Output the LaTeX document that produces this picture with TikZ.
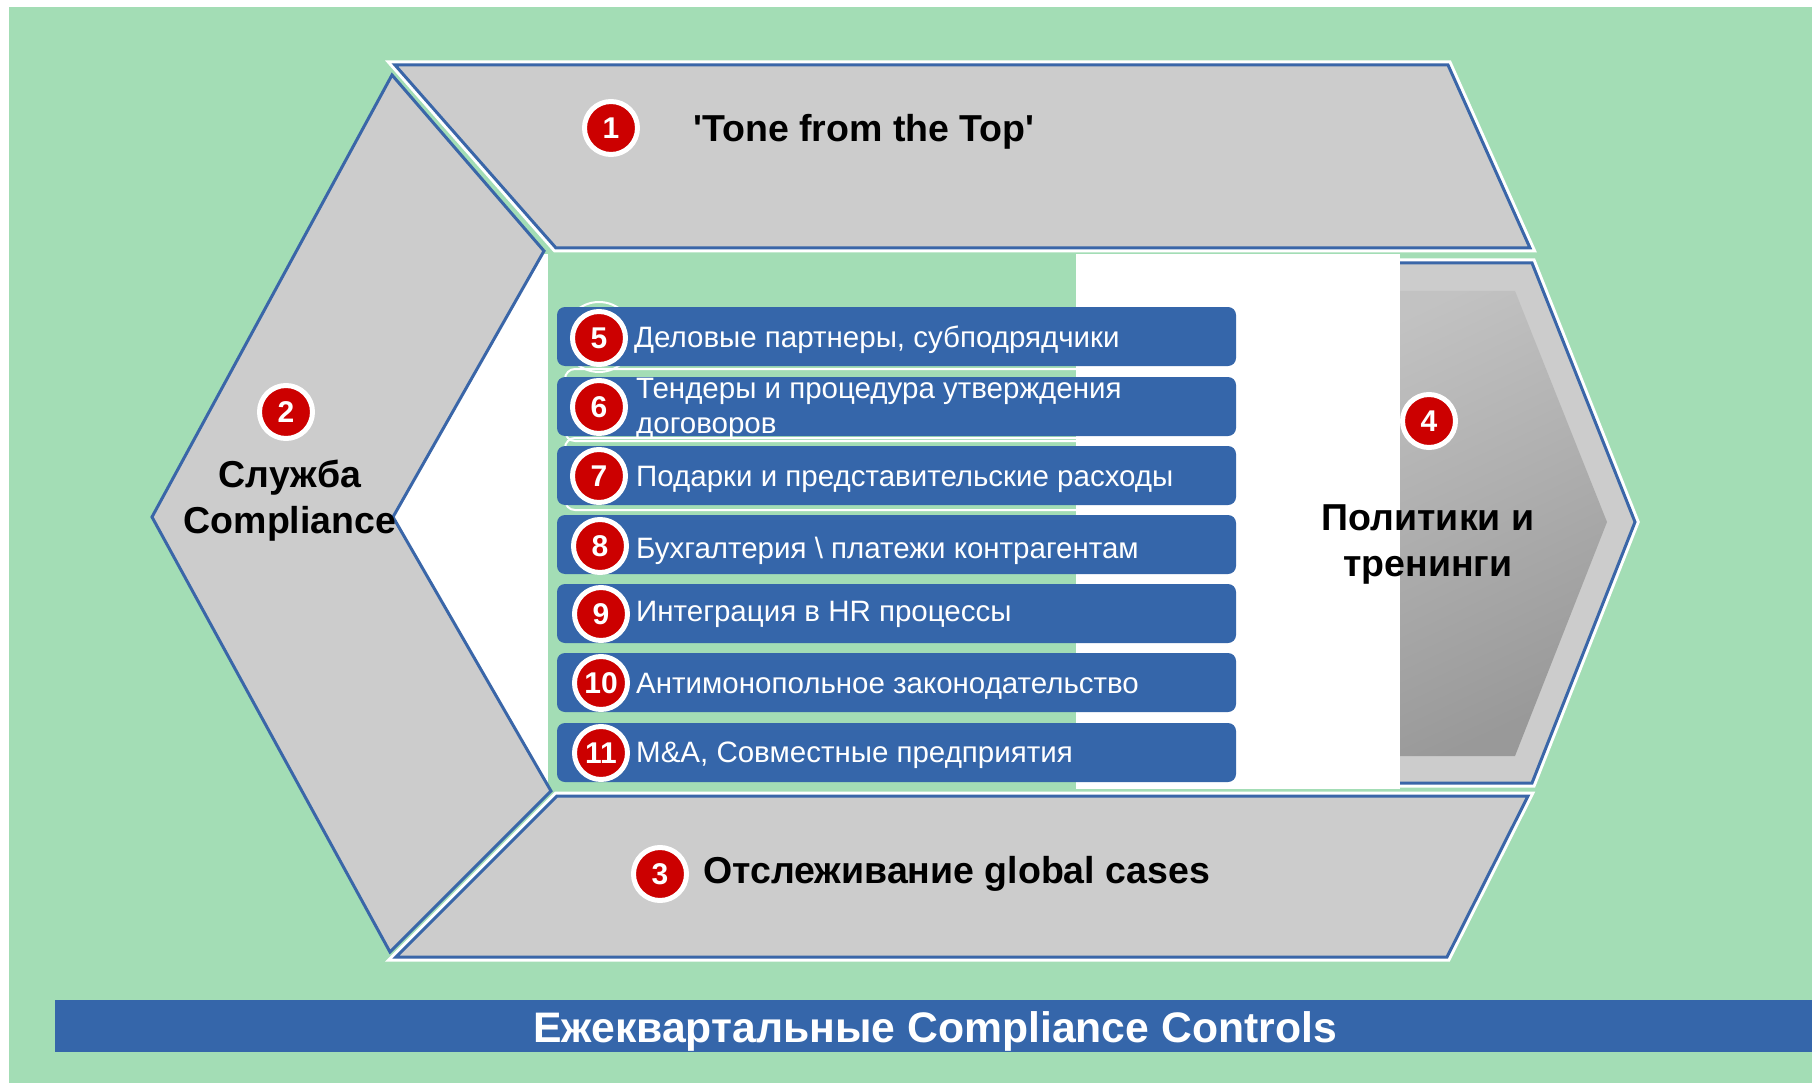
\documentclass[tikz,border=0pt]{standalone}
\usepackage{fontspec}
\setmainfont{Liberation Sans}
\definecolor{bggreen}{RGB}{163,221,181}
\definecolor{chgray}{RGB}{204,204,204}
\definecolor{edgeblue}{RGB}{58,102,168}
\definecolor{barblue}{RGB}{53,102,170}
\definecolor{numred}{RGB}{204,0,0}
\tikzset{
  chev/.style={fill=chgray, draw=edgeblue, line width=3pt, line join=miter},
  halo/.style={draw=white, line width=9pt, line join=miter},
  bar/.style={fill=barblue, rounded corners=8pt},
  ghost/.style={draw=white, line width=2pt, rounded corners=10pt},
  numc/.style={circle, fill=numred, draw=white, line width=5pt, minimum size=53pt, inner sep=0pt, text=white, font=\bfseries\fontsize{30}{30}\selectfont},
  bartxt/.style={anchor=west, inner sep=0pt, text=white, align=left, font=\fontsize{29.5}{34.5}\selectfont},
  headtxt/.style={inner sep=0pt, text=black, align=center, font=\bfseries\fontsize{37.5}{46}\selectfont}
}
\begin{document}
\begin{tikzpicture}[x=1pt, y=-1pt]
\useasboundingbox (0,0) rectangle (1812,1083);
\fill[white] (0,0) rectangle (1812,1083);
\fill[bggreen] (9,7) rectangle (1812,1083);
% right chevron (4)
\draw[halo] (1300,263) -- (1532,263) -- (1635,522) -- (1532,783) -- (1300,783);
\draw[chev] (1300,263) -- (1532,263) -- (1635,522) -- (1532,783) -- (1300,783) -- cycle;
\shade[top color=white!76!black, bottom color=white!60!black, shading angle=25]
  (1300,291) -- (1515,291) -- (1607,522) -- (1515,756) -- (1300,756) -- cycle;
% central panel
\fill[white] (380,254) rectangle (1400,789);
\fill[bggreen] (548,254) rectangle (1076,789);
% faint outlines behind the bars
\draw[white, line width=2pt] (599,337) circle[radius=35pt];
\draw[ghost] (565,369) rectangle (1244,441);
\draw[ghost] (565,438) rectangle (1244,510);
% left chevron (2)
\draw[chev] (392,75) -- (544,251) -- (393,517) -- (551,791) -- (390,952) -- (152,517) -- cycle;
% top chevron (1)
\draw[halo] (395,65) -- (1448,65) -- (1530,248) -- (556,248) -- cycle;
\draw[chev] (395,65) -- (1448,65) -- (1530,248) -- (556,248) -- cycle;
% bottom chevron (3)
\draw[halo] (557,796) -- (1528,796) -- (1447,957) -- (396,957) -- cycle;
\draw[chev] (557,796) -- (1528,796) -- (1447,957) -- (396,957) -- cycle;
% bars
\foreach \t in {307,377,446,515,584,653,723}{
  \fill[bar] (557,\t) rectangle (1236,\t+59);
}
\node[numc] (n5) at (599,338) {5};
\node[numc] (n6) at (599,407) {6};
\node[numc] (n7) at (599,476) {7};
\node[numc] (n8) at (600,546) {8};
\node[numc] (n9) at (601,614) {9};
\node[numc] (n10) at (601,683) {10};
\node[numc] (n11) at (601,753) {11};
\node[bartxt] (t5) at (634,340) {Деловые партнеры, субподрядчики};
\node[bartxt] (t6) at (636,409) {Тендеры и процедура утверждения\\договоров};
\node[bartxt] (t7) at (636,479) {Подарки и представительские расходы};
\node[bartxt] (t8) at (636,551) {Бухгалтерия \textbackslash{} платежи контрагентам};
\node[bartxt] (t9) at (636,614) {Интеграция в HR процессы};
\node[bartxt] (t10) at (636,686) {Антимонопольное законодательство};
\node[bartxt] (t11) at (636,755) {M\&A, Совместные предприятия};
% numbered headings
\node[numc] (n1) at (611,128) {1};
\node[headtxt, anchor=west] (t1) at (693,132) {\textquotesingle Tone from the Top\textquotesingle};
\node[numc] (n2) at (286,412) {2};
\node[headtxt] (t2) at (290,501) {Служба\\Compliance};
\node[numc] (n3) at (660,874) {3};
\node[headtxt, anchor=west] (t3) at (703,874) {Отслеживание global cases};
\node[numc] (n4) at (1429,421) {4};
\node[headtxt] (t4) at (1428,544) {Политики и\\тренинги};
% bottom bar
\fill[barblue] (55,1000) rectangle (1812,1052);
\node[inner sep=0pt, text=white, font=\bfseries\fontsize{42.7}{42.7}\selectfont] (tb) at (935,1031) {Ежеквартальные Compliance Controls};
\end{tikzpicture}
\end{document}
